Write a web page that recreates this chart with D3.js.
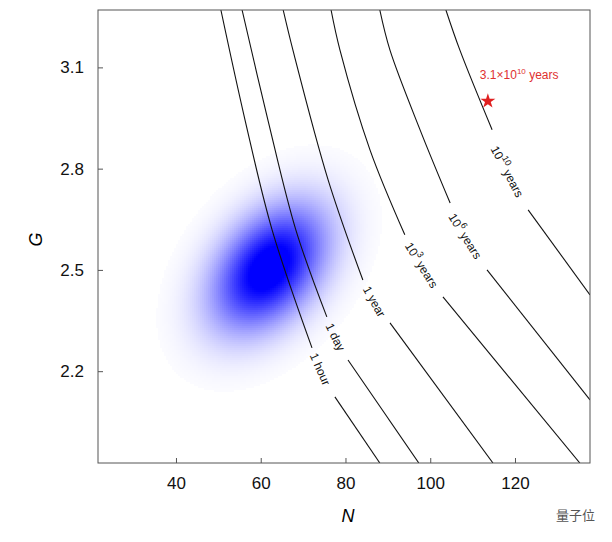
<!DOCTYPE html>
<html><head><meta charset="utf-8">
<script src="https://cdn.jsdelivr.net/npm/d3@7"></script>
<style>body{margin:0;background:#fff}svg{font-family:Arial,"Liberation Sans",sans-serif}</style>
</head><body><svg id="c" width="612" height="542"></svg>
<script>
const xTicks=[40,60,80,100,120];
const yTicks=[2.2,2.5,2.8,3.1];
const curveNames=["1 hour","1 day","1 year","10^3 years","10^6 years","10^10 years"];
const curveSegs=[
 [[[50.6,3.27],[56.3,2.944],[62.7,2.618],[72.1,2.269]],[[77.5,2.124],[88.1,1.928]]],
 [[[55.6,3.27],[61.7,2.944],[68.3,2.618],[75.6,2.361]],[[80.6,2.233],[97.3,1.928]]],
 [[[65.3,3.27],[67.6,3.151],[75.9,2.767],[84.1,2.470]],[[90.5,2.343],[114.8,1.928]]],
 [[[76.6,3.27],[78.7,3.151],[85.8,2.855],[94.0,2.604]],[[103.0,2.420],[135.3,1.928]]],
 [[[88.1,3.27],[90.5,3.151],[97.6,2.915],[104.7,2.698]],[[113.4,2.5],[137.7,2.115]]],
 [[[103.7,3.27],[107.0,3.151],[114.6,2.915]],[[123.1,2.678],[137.7,2.426]]]
];
const labelPos=[[73.8,2.205,66],[77.4,2.30,64],[86.6,2.405,61],[97.7,2.512,58],[108.0,2.598,58],[117.9,2.79,62]];
const star=[113.6,3.0];
const blob={mN:62,mG:2.505,sN:8,sG:0.11,rho:0.4};

const svg=d3.select("#c");
const L=98,R=590,T=10,B=463;
const x=d3.scaleLinear().domain([21.6,137.7]).range([L,R]);
const y=d3.scaleLinear().domain([1.928,3.27]).range([B,T]);
svg.append("defs").append("clipPath").attr("id","cp").append("rect").attr("x",L).attr("y",T).attr("width",R-L).attr("height",B-T);
const g=svg.append("g").attr("clip-path","url(#cp)");
const cells=[];const step=2;
for(let px=L;px<R;px+=step)for(let py=T;py<B;py+=step){
 const n=x.invert(px+step/2),gg=y.invert(py+step/2);
 const a=(n-blob.mN)/blob.sN,b=(gg-blob.mG)/blob.sG;
 const q=(a*a-2*blob.rho*a*b+b*b)/(1-blob.rho*blob.rho);
 const d=Math.exp(-q/2);
 if(d>0.004)cells.push({n,g:gg,d});
}
const col=d=>{const t=Math.min(1,Math.pow(d,0.8)*1.15);return d3.interpolateRgb("#ffffff","#0000ff")(t);};
g.selectAll("rect.c").data(cells).join("rect").attr("class","c").attr("shape-rendering","crispEdges")
 .attr("x",d=>Math.round(x(d.n)-step/2)).attr("y",d=>Math.round(y(d.g)-step/2)).attr("width",step).attr("height",step)
 .attr("fill",d=>col(d.d));
const line=d3.line().x(d=>x(d[0])).y(d=>y(d[1])).curve(d3.curveCatmullRom);
curveSegs.forEach(segs=>segs.forEach(s=>g.append("path").attr("d",line(s)).attr("fill","none").attr("stroke","#111").attr("stroke-width",1.1)));
curveNames.forEach((nm,i)=>{
 const [n,gg,a]=labelPos[i];
 const t=svg.append("text").attr("transform",`translate(${x(n)},${y(gg)}) rotate(${a})`)
  .attr("text-anchor","middle").attr("dominant-baseline","middle").attr("font-size",12).attr("fill","#111");
 const m=nm.match(/^10\^(\d+) (.*)$/);
 if(m){t.append("tspan").text("10");t.append("tspan").attr("dy",-5).attr("font-size",9).text(m[1]);t.append("tspan").attr("dy",5).text(" "+m[2]);}
 else t.text(nm);
});
svg.append("path").attr("d",d3.symbol(d3.symbolStar,70)()).attr("transform",`translate(${x(star[0])},${y(star[1])})`).attr("fill","#e02020");
const st=svg.append("text").attr("x",x(star[0])-8).attr("y",y(star[1])-22).attr("font-size",12).attr("fill","#e03030");
st.append("tspan").text("3.1×10");st.append("tspan").attr("dy",-5).attr("font-size",8).text("10");st.append("tspan").attr("dy",5).text(" years");
svg.append("rect").attr("x",L).attr("y",T).attr("width",R-L).attr("height",B-T).attr("fill","none").attr("stroke","#555");
const ax=svg.append("g").attr("transform",`translate(0,${B})`).call(d3.axisBottom(x).tickValues(xTicks).tickSize(-5).tickPadding(14));
const ay=svg.append("g").attr("transform",`translate(${L},0)`).call(d3.axisLeft(y).tickValues(yTicks).tickFormat(d3.format(".1f")).tickSize(-5).tickPadding(14));
[ax,ay].forEach(a=>{a.select(".domain").remove();a.selectAll("line").attr("stroke","#555");a.selectAll("text").attr("font-size",17).attr("fill","#111").attr("font-family","Arial,Liberation Sans,sans-serif");});
svg.append("text").attr("x",(L+R)/2+4).attr("y",522).attr("text-anchor","middle").attr("font-size",18).attr("font-style","italic").text("N");
svg.append("text").attr("transform",`translate(42,${(T+B)/2+3}) rotate(-90)`).attr("text-anchor","middle").attr("font-size",18).attr("font-style","italic").text("G");
svg.append("text").attr("x",595).attr("y",520).attr("text-anchor","end").attr("font-size",13).attr("fill","#555").attr("font-family","Noto Sans CJK SC").text("量子位");
</script></body></html>
